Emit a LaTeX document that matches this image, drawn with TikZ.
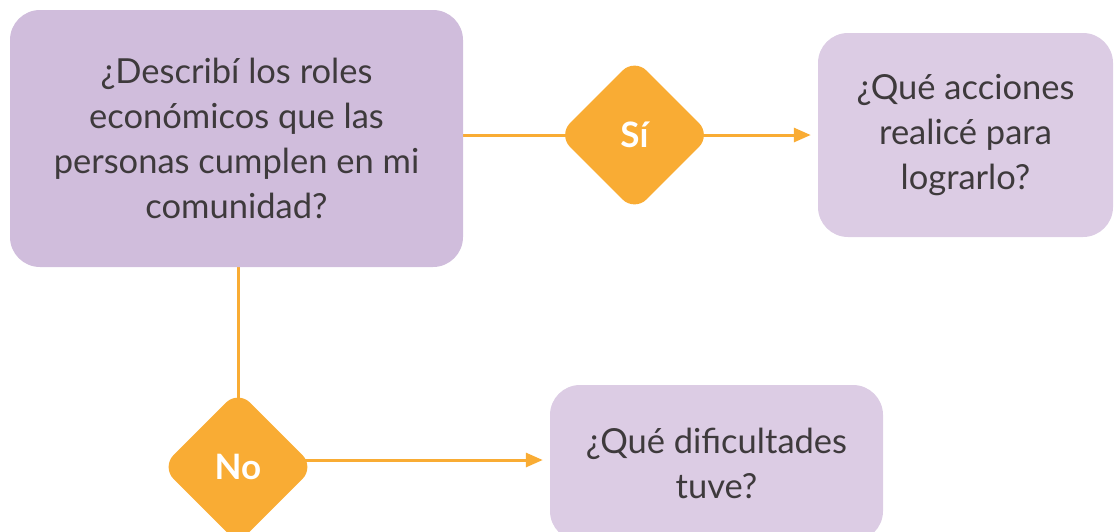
\documentclass[tikz,border=0pt]{standalone}
\usepackage{fontspec}
\setmainfont{Lato}
\usetikzlibrary{shapes.geometric,arrows.meta,backgrounds}
\definecolor{mainfill}{HTML}{D0BDDC}
\definecolor{lightfill}{HTML}{DCCCE4}
\definecolor{orng}{HTML}{F9AC34}
\definecolor{txt}{HTML}{3E3A3C}
\tikzset{
  qbox/.style={rectangle, rounded corners=30pt, draw=none, align=center, text=txt,
    font=\fontsize{34.5pt}{45pt}\selectfont, inner sep=0pt},
  decision/.style={diamond, aspect=1, fill=orng, rounded corners=17pt, minimum width=153pt,
    minimum height=153pt, inner sep=0pt, text=white, font=\fontsize{35pt}{40pt}\selectfont\bfseries},
  conn/.style={draw=orng, line width=3pt},
  arr/.style={conn, -{Triangle[length=17pt,width=14pt]}}
}
\begin{document}
\begin{tikzpicture}
\useasboundingbox (0pt,0pt) rectangle (1118pt,-531pt);
\clip (0pt,0pt) rectangle (1118pt,-531pt);
\node[qbox, fill=mainfill, minimum width=453pt, minimum height=257pt] (main) at (236.5pt,-138.5pt)
  {¿Describí los roles\\económicos que las\\personas cumplen en mi\\comunidad?};
\node[qbox, fill=lightfill, minimum width=295pt, minimum height=204pt] (right) at (965.5pt,-135pt)
  {¿Qué acciones\\realicé para\\lograrlo?};
\node[qbox, fill=lightfill, minimum width=333pt, minimum height=156pt] (bot) at (716.5pt,-463pt)
  {¿Qué dificultades\\tuve?};
\node[decision] (si) at (634.5pt,-135pt) {Sí};
\node[decision] (no) at (238pt,-467pt) {No};
\begin{scope}[on background layer]
\draw[conn] (main.east |- si.center) -- (si.center);
\draw[arr, shorten >=7pt] (si.center) -- (right.west);
\draw[conn] (no.center |- main.south) -- (no.center);
\draw[arr, shorten >=7pt] ([yshift=7pt]no.center) -- ([yshift=7pt]no.center -| bot.west);
\end{scope}
\end{tikzpicture}
\end{document}
